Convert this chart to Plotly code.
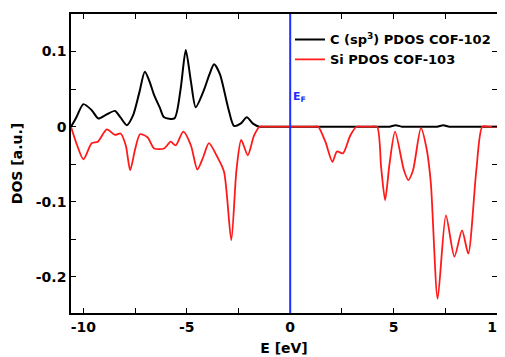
import plotly.graph_objects as go

# C (sp3) PDOS COF-102
c_E = [-10.6, -10.35, -10.0, -9.6, -9.28, -8.87, -8.47, -8.2, -7.9, -7.6, -7.3, -7.03, -6.8, -6.58,
       -6.3, -6.1, -5.6, -5.3, -5.05, -4.8, -4.57, -4.17, -3.9, -3.68, -3.4, -3.0, -2.72, -2.4,
       -2.1, -1.8, -1.5, -1.2, 0.0, 2.0, 4.5, 4.8, 5.1, 5.4, 6.5, 7.1, 7.4, 7.7, 8.5, 10.0]
c_dos = [0.0, 0.012, 0.030, 0.022, 0.011, 0.0165, 0.021, 0.012, 0.002, 0.015, 0.045, 0.073, 0.060, 0.042,
         0.025, 0.0125, 0.011, 0.05, 0.102, 0.06, 0.026, 0.049, 0.07, 0.083, 0.07, 0.025, 0.001, 0.004,
         0.0125, 0.004, 0.0, 0.0, 0.0, 0.0, 0.0, 0.0, 0.002, 0.0, 0.0, 0.0, 0.002, 0.0, 0.0, 0.0]

# Si PDOS COF-103
si_E = [-10.6, -10.3, -10.0, -9.6, -9.3, -8.87, -8.47, -8.2, -7.95, -7.74, -7.5, -7.26, -6.9, -6.58,
        -6.1, -5.78, -5.54, -5.17, -4.8, -4.49, -4.2, -3.93, -3.53, -3.2, -2.85, -2.6, -2.37, -2.05,
        -1.75, -1.48, -1.2, 0.0, 1.1, 1.35, 1.7, 2.04, 2.26, 2.55, 2.9, 3.2, 3.5, 3.9, 4.2, 4.4, 4.59,
        4.8, 5.07, 5.5, 5.71, 5.94, 6.32, 6.6, 6.8, 7.13, 7.53, 7.94, 8.31, 8.61, 9.0, 9.29, 9.6, 10.0]
si_dos = [0.0, -0.025, -0.0435, -0.022, -0.02, -0.0035, -0.011, -0.009, -0.025, -0.058, -0.03, -0.010,
          -0.014, -0.029, -0.029, -0.020, -0.025, -0.0067, -0.025, -0.057, -0.04, -0.022, -0.040, -0.06,
          -0.151, -0.058, -0.0177, -0.038, -0.012, 0.0, 0.0, 0.0, 0.0, 0.0, -0.02, -0.0467, -0.033,
          -0.0355, -0.012, 0.0, 0.0, 0.0, 0.0, -0.055, -0.0977, -0.05, -0.0067, -0.058, -0.071, -0.058,
          -0.002, -0.03, -0.075, -0.229, -0.118, -0.173, -0.138, -0.169, -0.058, 0.0, 0.0, 0.0]

fermi_E = 0.0

x_tickvals = [-10, -5, 0, 5, 10]
x_ticktext = ["-10", "-5", "0", "5", "10"]
y_tickvals = [-0.2, -0.1, 0.0, 0.1]
y_ticktext = ["-0.2", "-0.1", "0", "0.1"]

FONT = "DejaVu Sans, sans-serif"

fig = go.Figure()
fig.add_trace(go.Scatter(x=c_E, y=c_dos, mode="lines", name="C (sp<sup>3</sup>) PDOS COF-102",
                         line=dict(color="black", width=2, shape="spline", smoothing=0.7)))
fig.add_trace(go.Scatter(x=si_E, y=si_dos, mode="lines", name="Si PDOS COF-103",
                         line=dict(color="#ff1a1a", width=1.8, shape="spline", smoothing=0.7)))

fig.add_shape(type="line", xref="x", yref="paper", x0=fermi_E, x1=fermi_E, y0=0, y1=1,
              line=dict(color="#1f2fff", width=2))
fig.add_annotation(x=fermi_E, y=0.039, xref="x", yref="y", text="E<sub>F</sub>", showarrow=False,
                   xanchor="left", xshift=1, font=dict(family=FONT, size=11, color="#1f2fff", weight="bold"))

axis_common = dict(showline=True, linecolor="black", linewidth=1.5, mirror="ticks", ticks="inside",
                   ticklen=5, tickwidth=1, tickcolor="black", showgrid=False, zeroline=False,
                   automargin=False, ticklabeloverflow="allow",
                   tickfont=dict(family=FONT, size=14, color="black", weight="bold"))

fig.update_xaxes(range=[-10.6, 10], tickmode="array", tickvals=x_tickvals, ticktext=x_ticktext,
                 minor=dict(tickmode="linear", tick0=0, dtick=2.5, ticks="inside", ticklen=5,
                            tickcolor="black", showgrid=False),
                 title=dict(text="E [eV]", standoff=10, font=dict(family=FONT, size=14, color="black", weight="bold")),
                 **axis_common)
fig.update_yaxes(range=[-0.248, 0.15], tickmode="array", tickvals=y_tickvals, ticktext=y_ticktext,
                 minor=dict(tickmode="linear", tick0=0, dtick=0.05, ticks="inside", ticklen=5,
                            tickcolor="black", showgrid=False),
                 title=dict(text="DOS [a.u.]", standoff=10, font=dict(family=FONT, size=14, color="black", weight="bold")),
                 **axis_common)

fig.update_layout(
    width=497, height=349,
    margin=dict(l=63, r=8, t=6, b=44),
    plot_bgcolor="white", paper_bgcolor="white",
    legend=dict(x=0.514, y=0.965, xanchor="left", yanchor="top", bgcolor="rgba(0,0,0,0)",
                font=dict(family=FONT, size=13, color="black", weight="bold"),
                itemwidth=30, tracegroupgap=0),
    showlegend=True,
)

fig.write_html("out.html")
